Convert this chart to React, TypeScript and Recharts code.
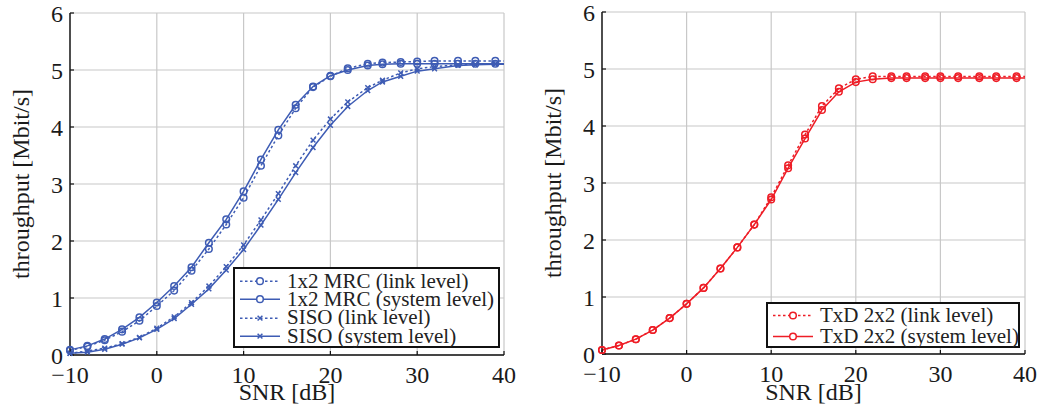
import React from 'react';
import { LineChart, Line, XAxis, YAxis, CartesianGrid, Legend } from 'recharts';

// SNR sample points (dB); last point at 40 carries no marker
const snrLeft = [-10, -8, -6, -4, -2, 0, 2, 4, 6, 8, 10, 12, 14, 16, 18, 20, 22, 24.3, 26, 28.1, 30, 32, 34.7, 36.7, 39, 40];
const snrRight = [-10, -8, -6, -4, -2, 0, 2, 4, 6, 8, 10, 12, 14, 16, 18, 20, 22, 24.2, 26, 28.2, 30, 32.1, 34.6, 36.6, 39, 40];

const mrcLink = [0.08, 0.15, 0.26, 0.41, 0.6, 0.86, 1.13, 1.48, 1.86, 2.29, 2.76, 3.32, 3.85, 4.33, 4.7, 4.89, 5.03, 5.11, 5.13, 5.14, 5.15, 5.16, 5.16, 5.16, 5.16, 5.16];
const mrcSystem = [0.09, 0.16, 0.28, 0.45, 0.66, 0.92, 1.21, 1.54, 1.97, 2.38, 2.87, 3.43, 3.95, 4.39, 4.71, 4.9, 5.0, 5.08, 5.1, 5.11, 5.11, 5.11, 5.11, 5.11, 5.11, 5.11];
const sisoLink = [0.03, 0.07, 0.12, 0.2, 0.31, 0.47, 0.67, 0.92, 1.21, 1.55, 1.93, 2.37, 2.83, 3.32, 3.77, 4.14, 4.44, 4.69, 4.82, 4.95, 5.02, 5.06, 5.09, 5.1, 5.11, 5.11];
const sisoSystem = [0.03, 0.05, 0.1, 0.19, 0.3, 0.45, 0.64, 0.89, 1.16, 1.49, 1.85, 2.28, 2.73, 3.2, 3.64, 4.03, 4.36, 4.64, 4.79, 4.89, 4.98, 5.02, 5.08, 5.09, 5.1, 5.1];

const txdLink = [0.07, 0.15, 0.26, 0.42, 0.63, 0.88, 1.16, 1.5, 1.87, 2.27, 2.75, 3.31, 3.85, 4.35, 4.66, 4.82, 4.87, 4.87, 4.87, 4.87, 4.87, 4.87, 4.87, 4.87, 4.87, 4.87];
const txdSystem = [0.07, 0.15, 0.26, 0.42, 0.63, 0.88, 1.16, 1.5, 1.87, 2.27, 2.71, 3.26, 3.78, 4.28, 4.6, 4.77, 4.82, 4.84, 4.84, 4.84, 4.84, 4.84, 4.84, 4.84, 4.84, 4.84];

const xTicks = [-10, 0, 10, 20, 30, 40];
const yTicks = [0, 1, 2, 3, 4, 5, 6];

const BLUE = '#3e5cb4';
const RED = '#ee1d26';
const FONT = '"Liberation Serif", "Times New Roman", serif';
const LW = 1.5;

const leftData = snrLeft.map((s, i) => ({
  snr: s,
  mrcLink: mrcLink[i],
  mrcSystem: mrcSystem[i],
  sisoLink: sisoLink[i],
  sisoSystem: sisoSystem[i],
}));

const rightData = snrRight.map((s, i) => ({
  snr: s,
  txdLink: txdLink[i],
  txdSystem: txdSystem[i],
}));

const fmt = (v: number) => (v < 0 ? '\u2212' + Math.abs(v) : String(v));

const circleDot = (color: string) => (props: any) => {
  const { cx, cy, payload, index } = props;
  if (payload.snr === 40) return <g key={index} />;
  return <circle key={index} cx={cx} cy={cy} r={3.3} stroke={color} strokeWidth={LW} fill="none" />;
};

const crossDot = (color: string) => (props: any) => {
  const { cx, cy, payload, index } = props;
  if (payload.snr === 40) return <g key={index} />;
  const d = 2.4;
  return (
    <path
      key={index}
      d={`M${cx - d},${cy - d}L${cx + d},${cy + d}M${cx - d},${cy + d}L${cx + d},${cy - d}`}
      stroke={color}
      strokeWidth={LW}
    />
  );
};

type Entry = { label: string; color: string; dashed: boolean; marker: 'o' | 'x' };

const LegendBox = ({ entries, width, height, rowH, padTop }: { entries: Entry[]; width: number; height: number; rowH: number; padTop: number }) => (
  <div
    style={{
      width,
      height,
      boxSizing: 'border-box',
      border: '2px solid #111',
      background: '#fff',
      paddingTop: padTop,
      fontFamily: FONT,
      fontSize: 21,
      color: '#222',
    }}
  >
    {entries.map((e) => (
      <div key={e.label} style={{ display: 'flex', alignItems: 'center', height: rowH, whiteSpace: 'nowrap' }}>
        <svg width={52} height={rowH} style={{ flex: 'none' }}>
          <line x1={5} x2={45} y1={rowH / 2} y2={rowH / 2} stroke={e.color} strokeWidth={LW} strokeDasharray={e.dashed ? '2.5 2.5' : undefined} />
          {e.marker === 'o' ? (
            <circle cx={25} cy={rowH / 2} r={3.3} stroke={e.color} strokeWidth={LW} fill="#fff" />
          ) : (
            <path d={`M22.6,${rowH / 2 - 2.4}L27.4,${rowH / 2 + 2.4}M22.6,${rowH / 2 + 2.4}L27.4,${rowH / 2 - 2.4}`} stroke={e.color} strokeWidth={LW} />
          )}
        </svg>
        <span style={{ lineHeight: 1 }}>{e.label}</span>
      </div>
    ))}
  </div>
);

const leftEntries: Entry[] = [
  { label: '1x2 MRC (link level)', color: BLUE, dashed: true, marker: 'o' },
  { label: '1x2 MRC (system level)', color: BLUE, dashed: false, marker: 'o' },
  { label: 'SISO (link level)', color: BLUE, dashed: true, marker: 'x' },
  { label: 'SISO (system level)', color: BLUE, dashed: false, marker: 'x' },
];

const rightEntries: Entry[] = [
  { label: 'TxD 2x2 (link level)', color: RED, dashed: true, marker: 'o' },
  { label: 'TxD 2x2 (system level)', color: RED, dashed: false, marker: 'o' },
];

const tickStyle = { fontSize: 24, fill: '#1a1a1a', fontFamily: FONT };
const labelStyle = { fontSize: 24, fill: '#1a1a1a', fontFamily: FONT, textAnchor: 'middle' as const };

// inward tick marks: negative tickSize, margin compensates for label placement
const axes = (yLabelOffset: number, xHeight: number, yWidth: number) => [
  <CartesianGrid key="grid" stroke="#c8c8c8" strokeWidth={1.2} />,
  <XAxis
    key="x"
    dataKey="snr"
    type="number"
    domain={[-10, 40]}
    ticks={xTicks}
    tickFormatter={fmt}
    height={xHeight}
    tick={tickStyle}
    tickLine={{ stroke: '#111', strokeWidth: 1.2 }}
    tickSize={-4}
    tickMargin={15}
    axisLine={{ stroke: '#111', strokeWidth: 1.4 }}
    interval={0}
    label={{ value: 'SNR [dB]', position: 'insideBottom', offset: 8, style: labelStyle }}
  />,
  <YAxis
    key="y"
    type="number"
    domain={[0, 6]}
    ticks={yTicks}
    width={yWidth}
    tick={tickStyle}
    tickLine={{ stroke: '#111', strokeWidth: 1.2 }}
    tickSize={-4}
    tickMargin={11}
    axisLine={{ stroke: '#111', strokeWidth: 1.4 }}
    interval={0}
    label={{ value: 'throughput [Mbit/s]', angle: -90, position: 'insideLeft', offset: yLabelOffset, style: labelStyle }}
  />,
];

export default function App() {
  return (
    <div style={{ position: 'absolute', left: 0, top: 0, width: 1055, height: 408, background: '#fff' }}>
      <div style={{ position: 'absolute', left: 0, top: 0 }}>
        <LineChart width={520} height={408} data={leftData} margin={{ top: 13, right: 16, bottom: 0, left: 0 }}>
          {axes(20, 53, 70)}
          <Line dataKey="sisoSystem" stroke={BLUE} strokeWidth={LW} dot={crossDot(BLUE)} isAnimationActive={false} />
          <Line dataKey="sisoLink" stroke={BLUE} strokeWidth={LW} strokeDasharray="2.5 2.5" dot={crossDot(BLUE)} isAnimationActive={false} />
          <Line dataKey="mrcSystem" stroke={BLUE} strokeWidth={LW} dot={circleDot(BLUE)} isAnimationActive={false} />
          <Line dataKey="mrcLink" stroke={BLUE} strokeWidth={LW} strokeDasharray="2.5 2.5" dot={circleDot(BLUE)} isAnimationActive={false} />
          <Legend
            layout="horizontal"
            verticalAlign="middle"
            align="center"
            wrapperStyle={{ left: 233, top: 267, width: 267, height: 81 }}
            content={() => <LegendBox entries={leftEntries} width={267} height={81} rowH={18.3} padTop={3} />}
          />
        </LineChart>
      </div>
      <div style={{ position: 'absolute', left: 520, top: 0 }}>
        <LineChart width={535} height={408} data={rightData} margin={{ top: 12, right: 30, bottom: 0, left: 0 }}>
          {axes(32, 54, 82)}
          <Line dataKey="txdSystem" stroke={RED} strokeWidth={LW} dot={circleDot(RED)} isAnimationActive={false} />
          <Line dataKey="txdLink" stroke={RED} strokeWidth={LW} strokeDasharray="2.5 2.5" dot={circleDot(RED)} isAnimationActive={false} />
          <Legend
            layout="horizontal"
            verticalAlign="middle"
            align="center"
            wrapperStyle={{ left: 246, top: 302, width: 254, height: 46 }}
            content={() => <LegendBox entries={rightEntries} width={254} height={46} rowH={21} padTop={1} />}
          />
        </LineChart>
      </div>
    </div>
  );
}
